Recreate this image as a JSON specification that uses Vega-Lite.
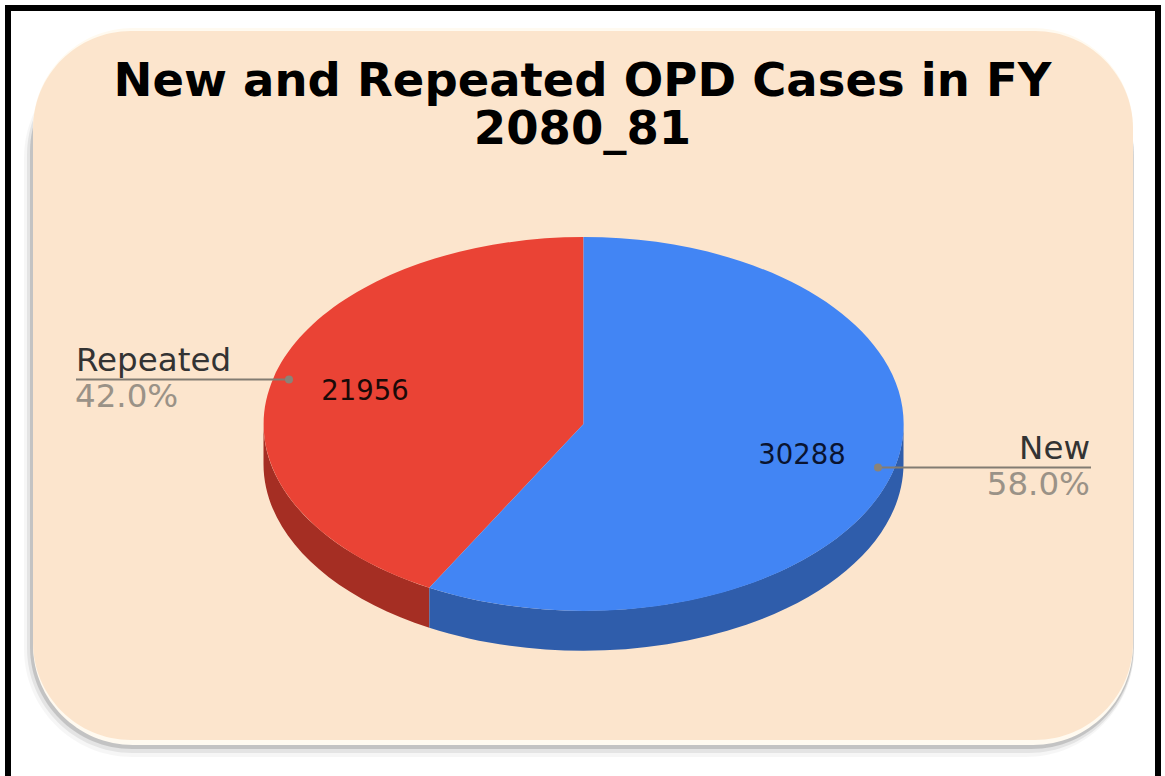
{
  "$schema": "https://vega.github.io/schema/vega-lite/v6.json",
  "width": 1165,
  "height": 776,
  "padding": 0,
  "autosize": "none",
  "background": "white",
  "title": {
    "text": ["New and Repeated OPD Cases in FY", "2080_81"],
    "orient": "top",
    "anchor": "middle",
    "offset": -153,
    "font": "DejaVu Sans",
    "fontWeight": "bold",
    "fontSize": 46.5,
    "lineHeight": 48,
    "color": "#000000"
  },
  "config": {
    "view": {"stroke": null},
    "axis": {"disable": true},
    "legend": {"disable": true}
  },
  "resolve": {"scale": {"fill": "independent", "shape": "independent"}},
  "data": {
    "values": [
      {"category": "Repeated", "cases": 21956, "share": "42.0%"},
      {"category": "New", "cases": 30288, "share": "58.0%"}
    ]
  },
  "layer": [
    {
      "data": {"values": [{"part": "frame"}]},
      "mark": {"type": "rect", "fill": "white", "stroke": "#000000", "strokeWidth": 6, "clip": false},
      "encoding": {
        "x": {"datum": 8, "type": "quantitative", "scale": {"domain": [0, 1165], "nice": false, "zero": false}},
        "x2": {"datum": 1158},
        "y": {"datum": 8, "type": "quantitative", "scale": {"domain": [776, 0], "nice": false, "zero": false}},
        "y2": {"datum": 800}
      }
    },
    {
      "data": {"values": [{"part": "shadow"}]},
      "mark": {"type": "rect", "fill": "#000000", "opacity": 0.035, "cornerRadius": 108},
      "encoding": {
        "x": {"datum": 24, "type": "quantitative"}, "x2": {"datum": 1134},
        "y": {"datum": 50, "type": "quantitative"}, "y2": {"datum": 757}
      }
    },
    {
      "data": {"values": [{"part": "shadow"}]},
      "mark": {"type": "rect", "fill": "#000000", "opacity": 0.07, "cornerRadius": 105},
      "encoding": {
        "x": {"datum": 27, "type": "quantitative"}, "x2": {"datum": 1134},
        "y": {"datum": 50, "type": "quantitative"}, "y2": {"datum": 753}
      }
    },
    {
      "data": {"values": [{"part": "shadow"}]},
      "mark": {"type": "rect", "fill": "#000000", "opacity": 0.14, "cornerRadius": 102},
      "encoding": {
        "x": {"datum": 30, "type": "quantitative"}, "x2": {"datum": 1133.5},
        "y": {"datum": 50, "type": "quantitative"}, "y2": {"datum": 749}
      }
    },
    {
      "data": {"values": [{"part": "bevel"}]},
      "mark": {"type": "rect", "fill": "#fffaf0", "cornerRadius": 100},
      "encoding": {
        "x": {"datum": 33, "type": "quantitative"}, "x2": {"datum": 1133},
        "y": {"datum": 28, "type": "quantitative"}, "y2": {"datum": 745}
      }
    },
    {
      "data": {"values": [{"part": "panel"}]},
      "mark": {"type": "rect", "fill": "#fce5cd", "cornerRadius": 98},
      "encoding": {
        "x": {"datum": 33, "type": "quantitative"}, "x2": {"datum": 1133},
        "y": {"datum": 31, "type": "quantitative"}, "y2": {"datum": 740}
      }
    },
    {
      "mark": {"type": "point", "filled": true, "opacity": 1, "size": 409600, "strokeWidth": 0},
      "encoding": {
        "x": {"datum": 583.5, "type": "quantitative"},
        "y": {"datum": 424, "type": "quantitative"},
        "fill": {"field": "category", "type": "nominal", "scale": {"domain": ["New", "Repeated"], "range": ["#2f5dab", "#a52e23"]}},
        "shape": {"field": "category", "type": "nominal", "scale": {"domain": ["New", "Repeated"], "range": [
          "M-0.4818 0.5116 L-0.4818 0.6366 A1 0.584 0 0 0 1 0.125 L1 0 A1 0.584 0 0 1 -0.4818 0.5116 Z",
          "M-1 0 L-1 0.125 A1 0.584 0 0 0 -0.4818 0.6366 L-0.4818 0.5116 A1 0.584 0 0 1 -1 0 Z"
        ]}}
      }
    },
    {
      "mark": {"type": "point", "filled": true, "opacity": 1, "size": 409600, "strokeWidth": 0},
      "encoding": {
        "x": {"datum": 583.5, "type": "quantitative"},
        "y": {"datum": 424, "type": "quantitative"},
        "fill": {"field": "category", "type": "nominal", "scale": {"domain": ["New", "Repeated"], "range": ["#4285f4", "#ea4335"]}},
        "shape": {"field": "category", "type": "nominal", "scale": {"domain": ["New", "Repeated"], "range": [
          "M0 0 L0 -0.584 A1 0.584 0 1 1 -0.4818 0.5116 Z",
          "M0 0 L0 -0.584 A1 0.584 0 0 0 -0.4818 0.5116 Z"
        ]}}
      }
    },
    {
      "transform": [{"filter": "datum.category === 'Repeated'"}],
      "layer": [
        {
          "mark": {"type": "rule", "stroke": "#827c72", "strokeWidth": 2},
          "encoding": {"x": {"datum": 76, "type": "quantitative"}, "x2": {"datum": 289}, "y": {"datum": 379.5, "type": "quantitative"}}
        },
        {
          "mark": {"type": "point", "filled": true, "opacity": 1, "size": 64, "shape": "circle", "fill": "#8a8378", "strokeWidth": 0},
          "encoding": {"x": {"datum": 289, "type": "quantitative"}, "y": {"datum": 379.5, "type": "quantitative"}}
        },
        {
          "mark": {"type": "text", "align": "left", "baseline": "alphabetic", "font": "DejaVu Sans", "fontSize": 32.5, "fill": "#333333"},
          "encoding": {"x": {"datum": 76, "type": "quantitative"}, "y": {"datum": 371, "type": "quantitative"}, "text": {"field": "category"}}
        },
        {
          "mark": {"type": "text", "align": "left", "baseline": "alphabetic", "font": "DejaVu Sans", "fontSize": 32.5, "fill": "#9a9287"},
          "encoding": {"x": {"datum": 75, "type": "quantitative"}, "y": {"datum": 407, "type": "quantitative"}, "text": {"field": "share"}}
        },
        {
          "mark": {"type": "text", "align": "center", "baseline": "alphabetic", "font": "DejaVu Sans", "fontSize": 27.5, "fill": "#1a0a08"},
          "encoding": {"x": {"datum": 365, "type": "quantitative"}, "y": {"datum": 400, "type": "quantitative"}, "text": {"field": "cases", "type": "nominal"}}
        }
      ]
    },
    {
      "transform": [{"filter": "datum.category === 'New'"}],
      "layer": [
        {
          "mark": {"type": "rule", "stroke": "#827c72", "strokeWidth": 2},
          "encoding": {"x": {"datum": 878, "type": "quantitative"}, "x2": {"datum": 1091}, "y": {"datum": 467.5, "type": "quantitative"}}
        },
        {
          "mark": {"type": "point", "filled": true, "opacity": 1, "size": 64, "shape": "circle", "fill": "#8a8378", "strokeWidth": 0},
          "encoding": {"x": {"datum": 878, "type": "quantitative"}, "y": {"datum": 467.5, "type": "quantitative"}}
        },
        {
          "mark": {"type": "text", "align": "right", "baseline": "alphabetic", "font": "DejaVu Sans", "fontSize": 32.5, "fill": "#333333"},
          "encoding": {"x": {"datum": 1090, "type": "quantitative"}, "y": {"datum": 459, "type": "quantitative"}, "text": {"field": "category"}}
        },
        {
          "mark": {"type": "text", "align": "right", "baseline": "alphabetic", "font": "DejaVu Sans", "fontSize": 32.5, "fill": "#9a9287"},
          "encoding": {"x": {"datum": 1090, "type": "quantitative"}, "y": {"datum": 495, "type": "quantitative"}, "text": {"field": "share"}}
        },
        {
          "mark": {"type": "text", "align": "center", "baseline": "alphabetic", "font": "DejaVu Sans", "fontSize": 27.5, "fill": "#0a1430"},
          "encoding": {"x": {"datum": 802, "type": "quantitative"}, "y": {"datum": 464, "type": "quantitative"}, "text": {"field": "cases", "type": "nominal"}}
        }
      ]
    }
  ]
}
